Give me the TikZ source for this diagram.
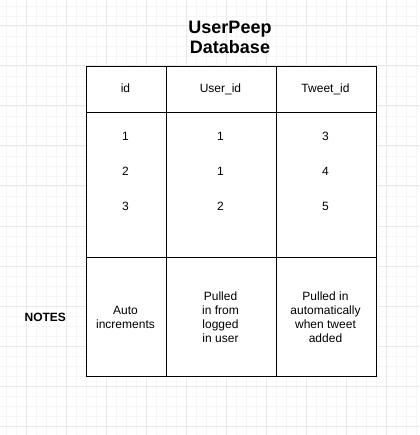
\documentclass[tikz,border=0pt]{standalone}
\usepackage{fontspec}
\setmainfont{Liberation Sans}
\definecolor{gridmajor}{HTML}{EAEAEA}
\definecolor{gridminor}{HTML}{F6F6F6}
\newcommand{\stk}[1]{\begin{tabular}[t]{@{}c@{}}#1\end{tabular}}
\begin{document}
\begin{tikzpicture}[x=1pt,y=-1pt,
  cell/.style={draw=black, line width=1pt, inner sep=0pt, outer sep=0pt},
  txt/.style={font=\fontsize{12}{14}\selectfont, inner sep=0pt, anchor=base},
  btxt/.style={font=\fontsize{12}{14}\selectfont\bfseries, inner sep=0pt, anchor=base},
  ttl/.style={font=\fontsize{18}{20.7}\selectfont\bfseries, inner sep=0pt, anchor=base},
  nums/.style={font=\fontsize{12}{34.7}\selectfont, inner sep=0pt, anchor=base}]
\useasboundingbox[fill=white] (0,0) rectangle (419,435);
% grid
\foreach \v in {6,16,...,416} {
  \draw[gridminor, line width=0.8pt] (\v,0) -- (\v,435);
}
\foreach \v in {6,16,...,426} {
  \draw[gridminor, line width=0.8pt] (0,\v) -- (419,\v);
}
\foreach \v in {26,66,...,386} {
  \draw[gridmajor, line width=1pt] (\v,0) -- (\v,435);
}
\foreach \v in {26,66,...,426} {
  \draw[gridmajor, line width=1pt] (0,\v) -- (419,\v);
}
% table cells
\node[cell, fill=white, minimum width=290pt, minimum height=309.5pt] (table) at (231,221.75) {};
\node[cell, minimum width=80pt,  minimum height=45.5pt] (h1) at (126,89.75) {};
\node[cell, minimum width=110pt, minimum height=45.5pt] (h2) at (221,89.75) {};
\node[cell, minimum width=100pt, minimum height=45.5pt] (h3) at (326,89.75) {};
\node[cell, minimum width=80pt,  minimum height=145pt] (d1) at (126,185) {};
\node[cell, minimum width=110pt, minimum height=145pt] (d2) at (221,185) {};
\node[cell, minimum width=100pt, minimum height=145pt] (d3) at (326,185) {};
\node[cell, minimum width=80pt,  minimum height=119pt] (n1) at (126,317) {};
\node[cell, minimum width=110pt, minimum height=119pt] (n2) at (221,317) {};
\node[cell, minimum width=100pt, minimum height=119pt] (n3) at (326,317) {};
% title
\node[ttl] (title) at (230,33.3) {\stk{UserPeep\\Database}};
% headers
\node[txt] (t1) at (125.5,92.3) {id};
\node[txt] (t2) at (220.5,92.3) {User\_id};
\node[txt] (t3) at (325.5,92.3) {Tweet\_id};
% data
\node[nums] (v1) at (125.5,141) {\stk{1\\2\\3}};
\node[nums] (v2) at (220.5,141) {\stk{1\\1\\2}};
\node[nums] (v3) at (325.5,141) {\stk{3\\4\\5}};
% notes
\node[btxt] (notes) at (45.3,321) {NOTES};
\node[txt] (m1) at (125.5,314.2) {\stk{Auto\\increments}};
\node[txt] (m2) at (220.5,300) {\stk{Pulled\\in from\\logged\\in user}};
\node[txt] (m3) at (325.5,300) {\stk{Pulled in\\automatically\\when tweet\\added}};
\end{tikzpicture}
\end{document}
